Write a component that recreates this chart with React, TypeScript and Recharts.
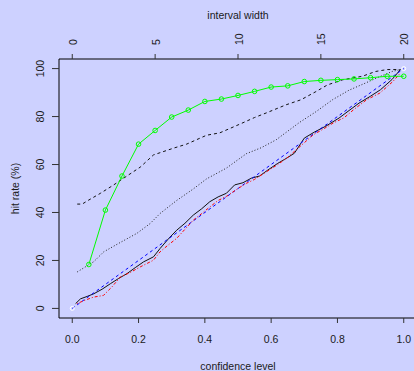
import { ComposedChart, Line, XAxis, YAxis } from "recharts"

// axis ticks
const confTicks = [0, 0.2, 0.4, 0.6, 0.8, 1]
const widthTicks = [0, 5, 10, 15, 20]
const rateTicks = [0, 20, 40, 60, 80, 100]

// green: hit rate per interval width (top axis)
const widths = [1, 2, 3, 4, 5, 6, 7, 8, 9, 10, 11, 12, 13, 14, 15, 16, 17, 18, 19, 20]
const widthRates = [18.3, 41, 55.2, 68.5, 74.2, 79.8, 82.7, 86.3, 87.3, 88.8, 90.5, 92.3, 92.8, 94.6, 95.1, 95.4, 95.7, 96.2, 96.8, 96.8]

// black dashed
const dashedX = [0.015, 0.03, 0.045, 0.085, 0.125, 0.155, 0.205, 0.245, 0.305, 0.345, 0.405, 0.445, 0.505, 0.55, 0.585, 0.645, 0.69, 0.735, 0.77, 0.815, 0.875, 0.915, 0.95, 0.99]
const dashedY = [43.5, 43.5, 44.8, 48, 51.5, 54.3, 58.9, 64, 66.8, 68.5, 72.2, 73.2, 76.8, 79.6, 81.5, 84.9, 87, 90.4, 93.2, 95.3, 96.8, 98.8, 99.6, 99.6]

// black dotted
const dottedX = [0.015, 0.065, 0.095, 0.145, 0.195, 0.235, 0.265, 0.315, 0.365, 0.405, 0.465, 0.525, 0.57, 0.615, 0.685, 0.735, 0.785, 0.835, 0.885, 0.925, 0.965, 0.99]
const dottedY = [15.2, 19.5, 23.6, 27.5, 31.3, 35.4, 39.6, 45, 49.8, 54, 58.5, 64.5, 67, 70.3, 77.5, 82, 87, 91, 94, 96.5, 98.8, 99.6]

// black solid
const solidX = [0.01, 0.025, 0.045, 0.065, 0.09, 0.115, 0.14, 0.165, 0.19, 0.215, 0.245, 0.265, 0.29, 0.315, 0.34, 0.365, 0.39, 0.415, 0.44, 0.465, 0.49, 0.515, 0.54, 0.565, 0.59, 0.62, 0.645, 0.67, 0.7, 0.73, 0.765, 0.805, 0.835, 0.865, 0.9, 0.93, 0.965, 0.99]
const solidY = [2, 4, 5, 6.1, 8, 10.3, 12.5, 14.5, 17, 19.4, 21.5, 25, 29, 32.6, 35.5, 38.9, 41.5, 44.5, 46.5, 48, 51.5, 52.4, 54.3, 55.2, 57.7, 60.5, 62.5, 64.7, 71, 73.5, 76, 79.4, 82.5, 85.6, 88.5, 91.2, 95.5, 99.6]

// red dash-dot
const redX = [0.014, 0.04, 0.064, 0.094, 0.12, 0.145, 0.175, 0.205, 0.245, 0.265, 0.29, 0.315, 0.34, 0.365, 0.39, 0.416, 0.44, 0.466, 0.5, 0.526, 0.55, 0.586, 0.62, 0.65, 0.687, 0.727, 0.76, 0.787, 0.82, 0.85, 0.888, 0.928, 0.968, 0.99]
const redY = [2, 3.5, 4.7, 5.4, 9, 13.1, 15, 17.3, 20.1, 23.6, 26.5, 29.2, 33, 36.8, 39.5, 42.4, 45, 46.8, 50, 52.2, 53.8, 57, 60, 63, 67.5, 72.4, 75, 77.3, 79.5, 83, 87, 89.8, 94.7, 98.2]

// blue diagonal and white end points
const diagX = [0, 1]
const diagY = [0, 100]

const pts = (xs: number[], ys: number[]) => xs.map((x, i) => ({ x, y: ys[i] }))

const font = "'Liberation Sans', Arial, sans-serif"
const txt = "#1a1a1a"
const bg = "#cdd1ff"

const BottomTick = (p: any) => (
  <text x={p.x} y={342.5} textAnchor="middle" fontSize={10.5} fontFamily={font} fill={txt}>
    {Number(p.payload.value).toFixed(1)}
  </text>
)

const TopTick = (p: any) => (
  <text x={p.x + 4.5} y={45} transform={`rotate(-90, ${p.x + 4.5}, 45)`} textAnchor="start" fontSize={10.5} fontFamily={font} fill={txt}>
    {p.payload.value}
  </text>
)

const LeftTick = (p: any) => (
  <text x={44} y={p.y} transform={`rotate(-90, 44, ${p.y})`} textAnchor="middle" fontSize={10.5} fontFamily={font} fill={txt}>
    {p.payload.value}
  </text>
)

export default function App() {
  return (
    <div style={{ position: "absolute", left: 0, top: 0, width: 414, height: 371, overflow: "hidden", background: bg }}>
      <ComposedChart width={420} height={371} margin={{ top: 19, right: 3, bottom: 0, left: 0 }}>
        <XAxis
          xAxisId="bottom"
          dataKey="x"
          type="number"
          domain={[-0.04, 1.04]}
          ticks={confTicks}
          interval={0}
          height={53}
          tickSize={5}
          tickLine={{ stroke: "#333" }}
          axisLine={{ stroke: "#000" }}
          tick={BottomTick}
          label={() => (
            <text x={238} y={370} textAnchor="middle" fontSize={10.5} fontFamily={font} fill={txt}>
              confidence level
            </text>
          )}
        />
        <XAxis
          xAxisId="top"
          orientation="top"
          dataKey="w"
          type="number"
          domain={[-0.8, 20.8]}
          ticks={widthTicks}
          interval={0}
          height={40}
          tickSize={5}
          tickLine={{ stroke: "#333" }}
          axisLine={{ stroke: "#000" }}
          tick={TopTick}
          label={() => (
            <text x={238} y={19} textAnchor="middle" fontSize={10.5} fontFamily={font} fill={txt}>
              interval width
            </text>
          )}
        />
        <YAxis
          yAxisId="rate"
          type="number"
          domain={[-4, 104]}
          ticks={rateTicks}
          interval={0}
          width={59}
          tickSize={7}
          tickLine={{ stroke: "#333" }}
          axisLine={{ stroke: "#000" }}
          tick={LeftTick}
          label={() => (
            <text x={19} y={188.5} transform="rotate(-90, 19, 188.5)" textAnchor="middle" fontSize={10.5} fontFamily={font} fill={txt}>
              hit rate (%)
            </text>
          )}
        />
        <Line xAxisId="bottom" yAxisId="rate" data={pts(solidX, solidY)} dataKey="y" stroke="#111" strokeWidth={1} dot={false} isAnimationActive={false} />
        <Line xAxisId="bottom" yAxisId="rate" data={pts(diagX, diagY)} dataKey="y" stroke="#0000ff" strokeWidth={1} strokeDasharray="3 3" dot={false} isAnimationActive={false} />
        <Line xAxisId="bottom" yAxisId="rate" data={pts(redX, redY)} dataKey="y" stroke="#ff0000" strokeWidth={1} strokeDasharray="1 2 3 2" dot={false} isAnimationActive={false} />
        <Line xAxisId="bottom" yAxisId="rate" data={pts(dottedX, dottedY)} dataKey="y" stroke="#222" strokeWidth={1} strokeDasharray="1 2" dot={false} isAnimationActive={false} />
        <Line xAxisId="bottom" yAxisId="rate" data={pts(dashedX, dashedY)} dataKey="y" stroke="#111" strokeWidth={1} strokeDasharray="3 3" dot={false} isAnimationActive={false} />
        <Line
          xAxisId="top"
          yAxisId="rate"
          data={widths.map((w, i) => ({ w, y: widthRates[i] }))}
          dataKey="y"
          stroke="#00ff00"
          strokeWidth={1}
          dot={{ r: 2.3, fill: "none", stroke: "#00ff00", strokeWidth: 1 }}
          isAnimationActive={false}
        />
        <Line
          xAxisId="bottom"
          yAxisId="rate"
          data={pts(diagX, diagY)}
          dataKey="y"
          stroke="none"
          dot={{ r: 2, fill: "none", stroke: "#ffffff", strokeWidth: 1 }}
          isAnimationActive={false}
        />
      </ComposedChart>
    </div>
  )
}
